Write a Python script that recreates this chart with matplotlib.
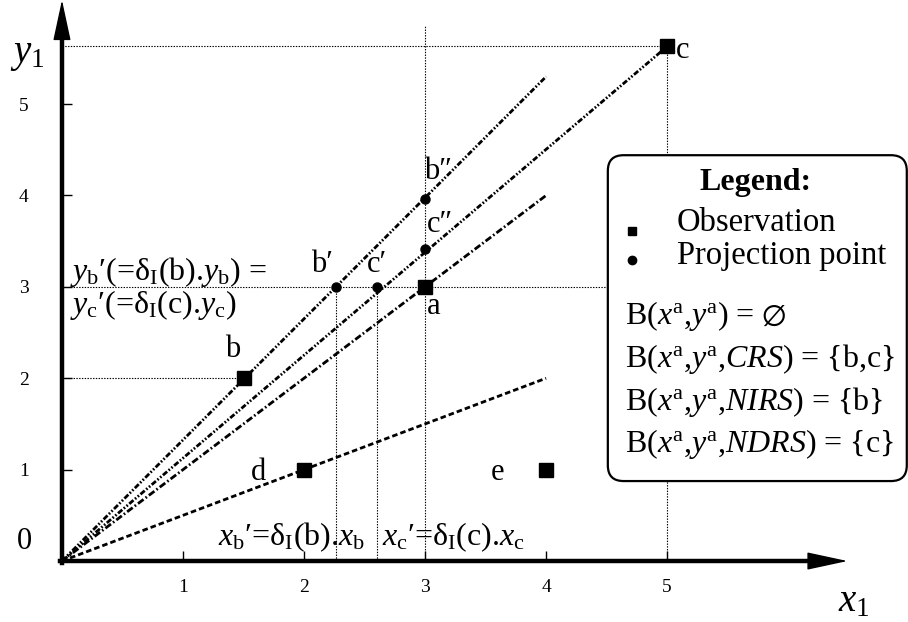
import matplotlib
matplotlib.use('agg')

import matplotlib.pyplot as plt
from matplotlib.patches import FancyBboxPatch

plt.rcParams['font.family'] = ['Liberation Serif', 'DejaVu Serif']
plt.rcParams['mathtext.fontset'] = 'custom'
plt.rcParams['mathtext.rm'] = 'Liberation Serif'
plt.rcParams['mathtext.it'] = 'Liberation Serif:italic'
plt.rcParams['mathtext.bf'] = 'Liberation Serif:bold'
plt.rcParams['mathtext.fallback'] = 'stix'
plt.rcParams['lines.scale_dashes'] = False

# observations (squares)
obs_names = ['a', 'b', 'c', 'd', 'e']
obs_x = [3, 1.5, 5, 2, 4]
obs_y = [3, 2, 5.63, 1, 1]

# projection points (dots)
proj_names = ['b′', 'c′', 'b″', 'c″']
proj_x = [2.26, 2.6, 3, 3]
proj_y = [3, 3, 3.96, 3.41]

# rays from the origin: end points
ray_x = [4, 5, 4, 4]
ray_y = [5.3, 5.63, 4, 2]

ticks = [1, 2, 3, 4, 5]

fig = plt.figure(figsize=(9.08, 6.22), dpi=100)
ax = fig.add_axes([0, 0, 1, 1])
ax.set_xlim(-0.512, 6.99)
ax.set_ylim(-0.667, 6.138)

# axes as thick spines through the origin
for s in ['top', 'right']:
    ax.spines[s].set_visible(False)
ax.spines['left'].set_position(('data', 0))
ax.spines['bottom'].set_position(('data', 0))
ax.spines['left'].set_bounds(-0.02, 5.76)
ax.spines['bottom'].set_bounds(-0.02, 6.2)
ax.spines['left'].set_linewidth(3.2)
ax.spines['bottom'].set_linewidth(3.2)

ax.set_xticks(ticks)
ax.set_yticks(ticks)
ax.tick_params(axis='x', direction='in', length=7, width=1, labelsize=14, pad=13)
ax.tick_params(axis='y', direction='in', length=7, width=1, labelsize=14, pad=24)

arrow = dict(arrowstyle='-|>,head_length=1.3,head_width=0.28', mutation_scale=20,
             lw=1, color='k', shrinkA=0, shrinkB=0)
ax.annotate('', xy=(0, 6.138), xytext=(0, 5.6), arrowprops=arrow, annotation_clip=False)
ax.annotate('', xy=(6.49, 0), xytext=(6.0, 0), arrowprops=arrow, annotation_clip=False)

# dotted guide lines
guide = dict(color='k', lw=0.8, ls=(0, (1, 1)), zorder=1)
ax.plot([0, obs_x[2]], [obs_y[2], obs_y[2]], **guide)
ax.plot([obs_x[2], obs_x[2]], [0, obs_y[2]], **guide)
ax.plot([3, 3], [0, 5.86], **guide)
ax.plot([0, 4.6], [3, 3], **guide)
ax.plot([0, obs_x[1]], [obs_y[1], obs_y[1]], **guide)
ax.plot([proj_x[0], proj_x[0]], [0, proj_y[0]], **guide)
ax.plot([proj_x[1], proj_x[1]], [0, proj_y[1]], **guide)

# rays
ddot = (0, (4, 1.4, 1.2, 1.4, 1.2, 1.4))
dashdot = (0, (5, 1.8, 1.2, 1.8))
dashed = (0, (4, 2.2))
ray_styles = [ddot, ddot, dashdot, dashed]
for xe, ye, st in zip(ray_x, ray_y, ray_styles):
    ax.plot([0, xe], [0, ye], color='k', lw=2.0, ls=st, zorder=2)

ax.plot(obs_x, obs_y, 'ks', ms=9.5, zorder=4)
ax.plot(proj_x, proj_y, 'ko', ms=6.5, zorder=4)

# point labels
lab_pos = {'a': (3.07, 2.78), 'b': (1.41, 2.31), 'c': (5.13, 5.59),
           'd': (1.62, 0.97), 'e': (3.60, 0.97),
           'b′': (2.15, 3.24), 'c′': (2.60, 3.24), 'b″': (3.11, 4.26), 'c″': (3.12, 3.68)}
for name in obs_names + proj_names:
    x, y = lab_pos[name]
    ax.text(x, y, name, fontsize=22, ha='center', va='center', zorder=5)

ax.text(0.066, 3.16, r'$y_\mathrm{b}$′(=δ$_\mathrm{I}$(b).$y_\mathrm{b}$) =',
        fontsize=23, ha='left', va='center')
ax.text(0.066, 2.80, r'$y_\mathrm{c}$′(=δ$_\mathrm{I}$(c).$y_\mathrm{c}$)',
        fontsize=23, ha='left', va='center')
ax.text(1.29, 0.26, r'$x_\mathrm{b}$′=δ$_\mathrm{I}$(b).$x_\mathrm{b}$',
        fontsize=23, ha='left', va='center')
ax.text(2.645, 0.26, r'$x_\mathrm{c}$′=δ$_\mathrm{I}$(c).$x_\mathrm{c}$',
        fontsize=23, ha='left', va='center')

ax.text(-0.306, 0.21, '0', fontsize=22, ha='center', va='center')
ax.text(-0.29, 5.54, r'$y_1$', fontsize=28, ha='center', va='center')
ax.text(6.54, -0.45, r'$x_1$', fontsize=28, ha='center', va='center')

# legend box
box = FancyBboxPatch((4.51, 0.875), 2.47, 3.565,
                     boxstyle='round,pad=0,rounding_size=0.13', mutation_aspect=1.32,
                     fc='white', ec='k', lw=1.6, zorder=3, clip_on=False)
ax.add_patch(box)
ax.text(5.727, 4.136, 'Legend:', fontsize=23, fontweight='bold',
        ha='center', va='center', zorder=5)
ax.plot([4.71], [3.61], 'ks', ms=6, zorder=5)
ax.text(5.08, 3.70, 'Observation', fontsize=23.5, ha='left', va='center', zorder=5)
ax.plot([4.71], [3.29], 'ko', ms=6, zorder=5)
ax.text(5.08, 3.34, 'Projection point', fontsize=23.5, ha='left', va='center', zorder=5)

legend_lines = [
    r'B($x^\mathrm{a}$,$y^\mathrm{a}$) = $\emptyset$',
    r'B($x^\mathrm{a}$,$y^\mathrm{a}$,$CRS$) = {b,c}',
    r'B($x^\mathrm{a}$,$y^\mathrm{a}$,$NIRS$) = {b}',
    r'B($x^\mathrm{a}$,$y^\mathrm{a}$,$NDRS$) = {c}',
]
legend_y = [2.59, 2.12, 1.65, 1.19]
for txt, y in zip(legend_lines, legend_y):
    ax.text(4.65, y, txt, fontsize=23, ha='left', va='baseline', zorder=5)

fig.savefig('out.png', dpi=100)
